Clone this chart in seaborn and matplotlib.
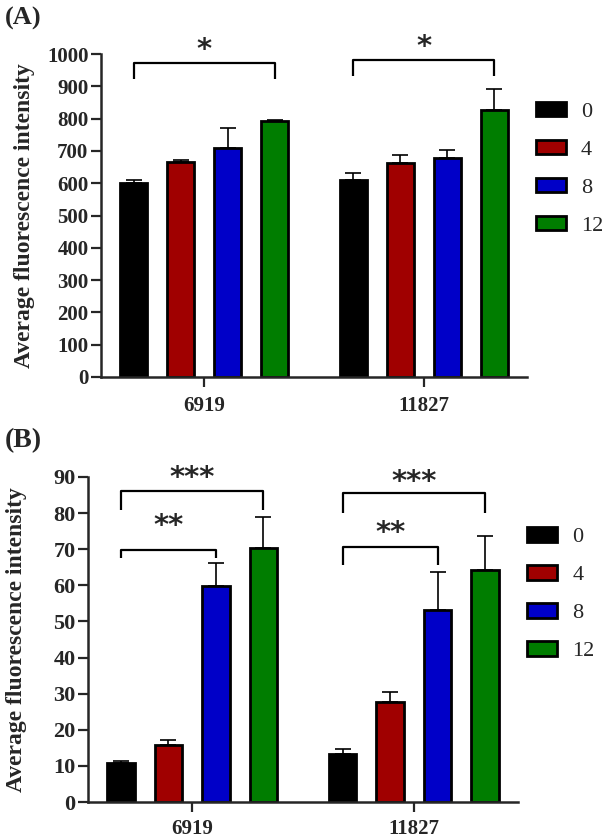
import numpy as np
import pandas as pd
import matplotlib
matplotlib.use("Agg")
import matplotlib.pyplot as plt
import seaborn as sns

# ---- data ----
strains = ["6919", "11827"]
hours = ["0", "4", "8", "12"]
bar_colors = ["#000000", "#A00000", "#0000C8", "#007D00"]

# panel A
a_mean_6919 = [600, 665, 708, 793]
a_err_6919 = [10, 6, 62, 3]
a_mean_11827 = [610, 662, 677, 826]
a_err_11827 = [22, 26, 27, 66]

# panel B
b_mean_6919 = [10.8, 15.9, 59.7, 70.4]
b_err_6919 = [0.6, 1.3, 6.5, 8.5]
b_mean_11827 = [13.2, 27.6, 53.1, 64.2]
b_err_11827 = [1.5, 2.9, 10.6, 9.4]

# significance brackets: (strain idx, from hue, to hue, bar top, leg bottom, star baseline, text)
a_brackets = [(0, 0, 3, 973, 923, 988, "*"),
              (1, 0, 3, 981, 932, 997, "*")]
b_brackets = [(0, 0, 3, 86.2, 80.9, 87.4, "***"),
              (0, 0, 2, 69.8, 67.5, 74.2, "**"),
              (1, 0, 3, 85.5, 80.0, 86.5, "***"),
              (1, 0, 2, 70.7, 65.7, 72.4, "**")]

sns.set_theme(style="ticks")
plt.rcParams["font.family"] = "serif"
plt.rcParams["font.serif"] = ["Liberation Serif", "DejaVu Serif"]


def make_df(m1, m2):
    return pd.DataFrame({
        "strain": [strains[0]] * 4 + [strains[1]] * 4,
        "hour": hours * 2,
        "value": list(m1) + list(m2),
    })


def draw_panel(ax, df, errs, brackets, ymax, ystep, ytick_fs, leg_y, xpad):
    sns.barplot(data=df, x="strain", y="value", hue="hour", order=strains,
                hue_order=hours, palette=bar_colors, errorbar=None,
                width=0.855, gap=0.42, edgecolor="black", linewidth=2,
                saturation=1, ax=ax)
    bar_conts = list(ax.containers)
    # one-sided error bars on top of each bar
    for i, cont in enumerate(bar_conts):
        xs = [b.get_x() + b.get_width() / 2 for b in cont]
        ys = [b.get_height() for b in cont]
        e = [errs[g][i] for g in range(len(strains))]
        ax.errorbar(xs, ys, yerr=[np.zeros(len(e)), e], fmt="none",
                    ecolor="black", elinewidth=1.2, capsize=5.5,
                    capthick=1.2, zorder=1)
    # brackets
    for g, h0, h1, top, leg, sy, txt in brackets:
        b0 = bar_conts[h0][g]
        b1 = bar_conts[h1][g]
        x0 = b0.get_x() + b0.get_width() / 2
        x1 = b1.get_x() + b1.get_width() / 2
        ax.plot([x0, x0, x1, x1], [leg, top, top, leg], color="black",
                lw=1.6, clip_on=False, solid_capstyle="butt")
        ax.text((x0 + x1) / 2, sy, txt, ha="center", va="baseline",
                fontsize=21, fontweight="bold", family="DejaVu Sans",
                clip_on=False)

    ax.set_xlim(-0.47, 1.47)
    ax.set_ylim(0, ymax)
    ax.set_yticks(np.arange(0, ymax + 1, ystep))
    ax.set_xlabel("")
    ax.set_ylabel("Average fluorescence intensity", fontsize=17,
                  fontweight="bold")
    sns.despine(ax=ax)
    for s in ["left", "bottom"]:
        ax.spines[s].set_linewidth(1.8)
    ax.tick_params(axis="y", length=7, width=1.6, pad=2, labelsize=ytick_fs)
    ax.tick_params(axis="x", length=7, width=1.6, pad=xpad, labelsize=15)
    for t in ax.get_xticklabels() + ax.get_yticklabels():
        t.set_fontweight("bold")

    handles, labels = ax.get_legend_handles_labels()
    ax.legend(handles, labels, loc="center left", bbox_to_anchor=(1.02, leg_y),
              frameon=False, fontsize=16, handlelength=1.35,
              handleheight=0.65, handletextpad=0.7, labelspacing=0.8,
              borderpad=0, borderaxespad=0)


fig = plt.figure(figsize=(6.07, 8.39), dpi=100)
ax_a = fig.add_axes([101 / 607, (839 - 377) / 839, 426 / 607, 323 / 839])
ax_b = fig.add_axes([88 / 607, (839 - 802) / 839, 430 / 607, 325 / 839])

draw_panel(ax_a, make_df(a_mean_6919, a_mean_11827), [a_err_6919, a_err_11827],
           a_brackets, 1000, 100, 15, 0.645, 7)
draw_panel(ax_b, make_df(b_mean_6919, b_mean_11827), [b_err_6919, b_err_11827],
           b_brackets, 90, 10, 16, 0.64, 5)

ax_a.yaxis.set_label_coords(-0.155, 0.5)
ax_b.yaxis.set_label_coords(-0.142, 0.5)

fig.text(5 / 607, 1 - 18.5 / 839, "(A)", fontsize=19, fontweight="bold",
         ha="left", va="center")
fig.text(5 / 607, 1 - 441 / 839, "(B)", fontsize=20, fontweight="bold",
         ha="left", va="center")

fig.savefig("out.png", dpi=100)
